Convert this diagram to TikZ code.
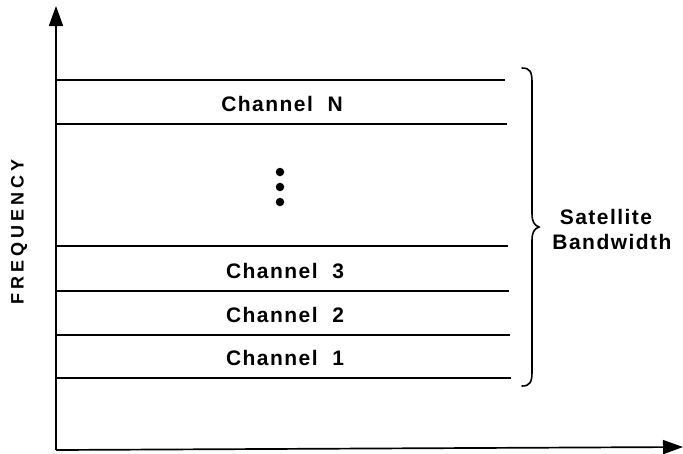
\documentclass[tikz,border=0pt]{standalone}
\usepackage{fontspec}
\setmainfont{Liberation Sans}
\newfontfamily\labfont[LetterSpace=7]{Liberation Sans Bold}
\newfontfamily\freqfont[LetterSpace=22]{Liberation Sans Bold}
\usetikzlibrary{arrows.meta}
\begin{document}
\begin{tikzpicture}[x=1pt,y=-1pt,
  ax/.style={line width=1.7pt,-{Triangle[length=20pt,width=14pt]}},
  band/.style={line width=1.7pt},
  chlabel/.style={anchor=base,inner sep=0pt,font=\fontsize{21}{24}\labfont},
  dotmark/.style={circle,fill=black,inner sep=0pt,minimum size=8.5pt}]
\useasboundingbox (0,0) rectangle (683,453);
% axes
\coordinate (O) at (56,450);
\coordinate (ytop) at (56,6);
\coordinate (xend) at (683,447);
\draw[ax] (O) -- (ytop);
\draw[ax] (O) -- (xend);
% band lines
\foreach \n/\y/\r in {a/80/505,b/124/507,c/246/508,d/291/509,e/335/510,f/378/511}{
  \coordinate (\n L) at (56,\y);
  \coordinate (\n R) at (\r,\y);
  \draw[band] (\n L) -- (\n R);
}
% labels
\node[chlabel] (chN) at (282,111) {Channel\ \ N};
\node[chlabel] (ch3) at (285,278) {Channel\ \ 3};
\node[chlabel] (ch2) at (285,322) {Channel\ \ 2};
\node[chlabel] (ch1) at (285,365) {Channel\ \ 1};
% dots
\node[dotmark] (d1) at (280,172) {};
\node[dotmark] (d2) at (280,187) {};
\node[dotmark] (d3) at (280,202) {};
% brace
\coordinate (btop) at (522,68);
\coordinate (btip) at (539,227);
\coordinate (bbot) at (522,386);
\draw[line width=1.6pt,line cap=round]
  (btop) .. controls (530,68) and (532,72) .. (532,82)
  -- (532,213) .. controls (532,222) and (534,225) .. (btip)
  .. controls (534,229) and (532,232) .. (532,241)
  -- (532,372) .. controls (532,382) and (530,386) .. (bbot);
% satellite bandwidth
\node[chlabel] (sat) at (606,224) {Satellite};
\node[chlabel] (bw) at (612,249) {Bandwidth};
% frequency
\node[rotate=90,inner sep=0pt,font=\fontsize{18}{20}\freqfont] (freq) at (19,232) {FREQUENCY};
\end{tikzpicture}
\end{document}
